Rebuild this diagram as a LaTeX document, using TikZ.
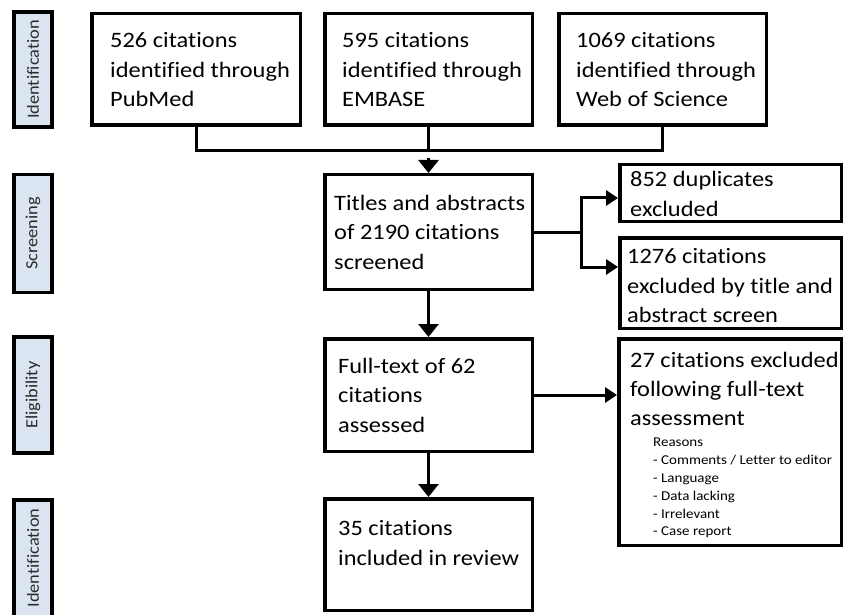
\documentclass[tikz,border=0pt]{standalone}
\usepackage{fontspec}
\setmainfont{Carlito}[FakeStretch=1.11,Ligatures=NoCommon]
\newfontfamily\sidefont{Carlito}[FakeStretch=1.08,Ligatures=NoCommon]
\usetikzlibrary{arrows.meta}
\definecolor{sidefill}{HTML}{DBE5F1}
\definecolor{sidetext}{HTML}{2B2B2B}
\begin{document}
\begin{tikzpicture}[x=1pt,y=-1pt,
 box/.style={draw, line width=3.5pt, inner sep=0pt},
 txt/.style={align=left, inner sep=0pt, anchor=west, font=\fontsize{22}{29.5}\selectfont},
 side/.style={draw, line width=3.5pt, fill=sidefill, rotate=90, inner sep=0pt, minimum height=38pt, font=\sidefont\fontsize{17}{19}\selectfont, text=sidetext},
 conn/.style={line width=3pt},
 arrv/.style={conn, -{Triangle[width=20pt,length=13pt]}},
 arrh/.style={conn, -{Triangle[width=15pt,length=12pt]}}
]
\useasboundingbox (0,0) rectangle (852,615);
\clip (0,0) rectangle (852,615);

% side labels
\node[side, minimum width=115pt] (s1) at (33,69.5) {Identification};
\node[side, minimum width=118pt] (s2) at (33,233.5) {Screening};
\node[side, minimum width=116pt] (s3) at (33,395) {Eligibility};
\node[side, minimum width=126pt] (s4) at (33,563) {\hspace{10pt}Identification};

% boxes
\node[box, minimum width=208.5pt, minimum height=111.5pt] (pubmed) at (196,69.5) {};
\node[box, minimum width=207.5pt, minimum height=111.5pt] (embase) at (428.5,69.5) {};
\node[box, minimum width=207.5pt, minimum height=111.5pt] (wos) at (662.5,69.5) {};
\node[box, minimum width=207.5pt, minimum height=114.5pt] (titles) at (428.5,232) {};
\node[box, minimum width=207.5pt, minimum height=112.5pt] (fulltext) at (428.5,395) {};
\node[box, minimum width=207.5pt, minimum height=111.5pt] (incl) at (428.5,554.5) {};
\node[box, minimum width=221.5pt, minimum height=56.5pt] (dup) at (730.5,193) {};
\node[box, minimum width=221.5pt, minimum height=90.5pt] (excl) at (730.5,283) {};
\node[box, minimum width=222.5pt, minimum height=206.5pt] (ftx) at (730,442) {};

% texts
\node[txt] (pubmedt) at (110,70) {526 citations\\identified through\\PubMed};
\node[txt] (embaset) at (342,70) {595 citations\\identified through\\EMBASE};
\node[txt] (wost) at (576,70) {1069 citations\\identified through\\Web of Science};
\node[txt] (titlest) at (334,232) {Titles and abstracts\\of 2190 citations\\screened};
\node[txt] (fullt) at (338,395) {Full-text of 62\\citations\\assessed};
\node[txt] (inclt) at (338,543) {35 citations\\included in review};
\node[txt] (dupt) at (630,194) {852 duplicates\\excluded};
\node[txt] (exclt) at (627,286) {1276 citations\\excluded by title and\\abstract screen};
\node[txt, anchor=north west, font=\fontsize{22}{29}\selectfont] (ftxt) at (630,352) {27 citations excluded\\following full-text\\assessment};
\node[txt, anchor=north west, font=\fontsize{13.5}{17.8}\selectfont] (reasons) at (653,438) {Reasons\\- Comments / Letter to editor\\- Language\\- Data lacking\\- Irrelevant\\- Case report};

% connectors
\coordinate (j) at (428.5,151);
\draw[conn] (pubmed.south) |- (j) -| (wos.south);
\draw[conn] (embase.south) -- (j);
\draw[arrv, shorten <=7pt] (j) -- (titles.north);

\coordinate (b) at (581,232);
\coordinate (b1) at (581,198);
\coordinate (b2) at (581,267);
\draw[conn] (titles.east) -- (b);
\draw[arrh] (b) -- (b1) -- (b1 -| dup.west);
\draw[arrh] (b) -- (b2) -- (b2 -| excl.west);

\draw[arrh] (fulltext.east) -- (fulltext.east -| ftx.west);
\draw[arrv] (titles.south) -- (fulltext.north);
\draw[arrv] (fulltext.south) -- (incl.north);
\end{tikzpicture}
\end{document}
